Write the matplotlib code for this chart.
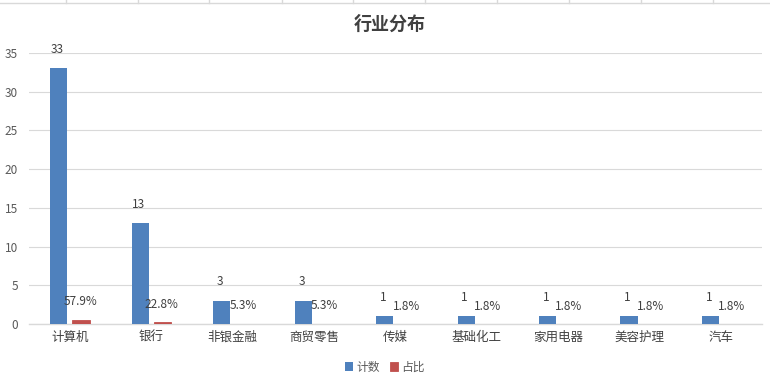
import matplotlib
matplotlib.use("Agg")
import matplotlib.pyplot as plt
import numpy as np
from matplotlib.lines import Line2D

plt.rcParams['font.family'] = ['Noto Sans CJK SC', 'DejaVu Sans']

categories = ["计算机", "银行", "非银金融", "商贸零售", "传媒", "基础化工", "家用电器", "美容护理", "汽车"]
counts = [33, 13, 3, 3, 1, 1, 1, 1, 1]
ratios = [0.579, 0.228, 0.053, 0.053, 0.018, 0.018, 0.018, 0.018, 0.018]
ratio_labels = ["57.9%", "22.8%", "5.3%", "5.3%", "1.8%", "1.8%", "1.8%", "1.8%", "1.8%"]

blue = "#4F81BD"
red = "#C0504D"
text_c = "#404040"

fig = plt.figure(figsize=(7.7, 3.83), dpi=100)
ax = fig.add_axes([29/770, 1 - 324/383, (762-29)/770, (324-53)/383])

x = np.arange(len(categories))
w = 0.21
ax.bar(x - 0.133, counts, width=w, color=blue, label="计数", zorder=3)
ax.bar(x + 0.138, ratios, width=w, color=red, edgecolor=red, linewidth=0.6,
       label="占比", zorder=4)

for xi, c in zip(x, counts):
    ax.annotate(str(c), (xi - 0.15, c), xytext=(0, 9), textcoords="offset points",
                ha="center", va="bottom", fontsize=8.5, color=text_c)
for xi, r, lab in zip(x, ratios, ratio_labels):
    ax.annotate(lab, (xi + 0.13, r), xytext=(0, 8), textcoords="offset points",
                ha="center", va="bottom", fontsize=8.5, color=text_c)

ax.set_xlim(-0.5, len(categories) - 0.5)
ax.set_ylim(0, 35)
ax.set_yticks(np.arange(0, 36, 5))
ax.set_xticks(x)
ax.set_xticklabels(categories, fontsize=9, color="#404040")
ax.tick_params(axis="y", labelsize=8.5, colors="#595959", length=0, pad=8)
ax.tick_params(axis="x", length=0, pad=5)
ax.grid(axis="y", color="#d9d9d9", linewidth=0.8, zorder=0)
for s in ["top", "right", "left"]:
    ax.spines[s].set_visible(False)
ax.spines["bottom"].set_color("#d9d9d9")
ax.spines["bottom"].set_linewidth(1.0)
ax.spines["bottom"].set_zorder(2)

fig.text(389.5/770, 1 - 24/383, "行业分布", ha="center", va="center", fontsize=13,
         fontweight="bold", color="#404040")

leg = fig.legend(loc="center", bbox_to_anchor=(0.5, 1 - 367/383), ncol=2, frameon=False,
                 fontsize=8.5, handlelength=0.7, handleheight=0.7, handletextpad=0.3,
                 columnspacing=0.8)
for t in leg.get_texts():
    t.set_color("#595959")

# spreadsheet grid remnant at top
fig.add_artist(Line2D([0, 1], [1 - 2.5/383, 1 - 2.5/383], transform=fig.transFigure,
                      color="#d9d9d9", linewidth=1))
for vx in [66, 138, 209, 282, 353, 425, 497, 569, 641, 713]:
    fig.add_artist(Line2D([vx/770, vx/770], [1 - 2.5/383, 1], transform=fig.transFigure,
                          color="#d9d9d9", linewidth=1))

fig.savefig("out.png", dpi=100, facecolor="white")
